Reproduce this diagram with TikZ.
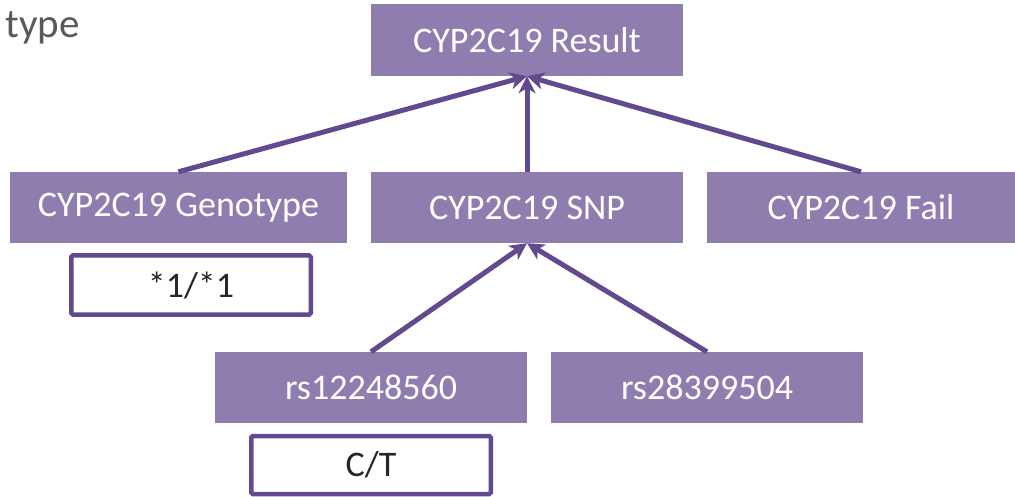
\documentclass[tikz,border=0pt]{standalone}
\usepackage{fontspec}
\setmainfont{Carlito}
\usetikzlibrary{arrows.meta}
\definecolor{boxfill}{RGB}{143,125,175}
\definecolor{linkpurple}{RGB}{99,73,143}
\definecolor{titlegrey}{RGB}{89,89,89}
\definecolor{valtext}{RGB}{38,38,38}
\tikzset{
  x=1pt, y=-1pt,
  field/.style={fill=boxfill, draw=none, text=white, inner sep=0pt,
    font=\fontsize{36}{43}\selectfont},
  valuebox/.style={draw=linkpurple, line width=4.5pt, rounded corners=1.5pt,
    fill=white, text=valtext, inner sep=0pt, minimum width=239.5pt, minimum height=59pt,
    font=\fontsize{36}{43}\selectfont},
  link/.style={draw=linkpurple, line width=5pt,
    -{Stealth[length=17pt, width=17pt, inset=5pt]}},
}
\begin{document}
\begin{tikzpicture}
\useasboundingbox (0,0) rectangle (1015,497);
\clip (0,0) rectangle (1015,497);

% partial heading at the top left
\node[anchor=base east, text=titlegrey, inner sep=0pt,
  font=\fontsize{41}{49}\selectfont] (heading) at (80,38) {type};

% result tree
\node[field, minimum width=312pt, minimum height=72pt] (result) at (527,40) {CYP2C19 Result};
\node[field, minimum width=337pt, minimum height=71pt] (geno) at (178.5,207.5) {CYP2C19 Genotype};
\node[field, minimum width=312pt, minimum height=71pt] (snp) at (527,207.5) {CYP2C19 SNP};
\node[field, minimum width=308pt, minimum height=71pt] (fail) at (861,207.5) {CYP2C19 Fail};
\node[field, minimum width=312pt, minimum height=71pt] (rsa) at (371,387.5) {rs12248560};
\node[field, minimum width=312pt, minimum height=71pt] (rsb) at (707,387.5) {rs28399504};

% observed values
\node[valuebox] (genoval) at (191,285) {*1/*1};
\node[valuebox, minimum height=58pt] (rsaval) at (371,465) {C/T};

% connectors
\draw[link] (geno.north) -- (result.south);
\draw[link] (snp.north) -- (result.south);
\draw[link] (fail.north) -- (result.south);
\draw[link] (rsa.north) -- (snp.south);
\draw[link] (rsb.north) -- (snp.south);
\end{tikzpicture}
\end{document}
